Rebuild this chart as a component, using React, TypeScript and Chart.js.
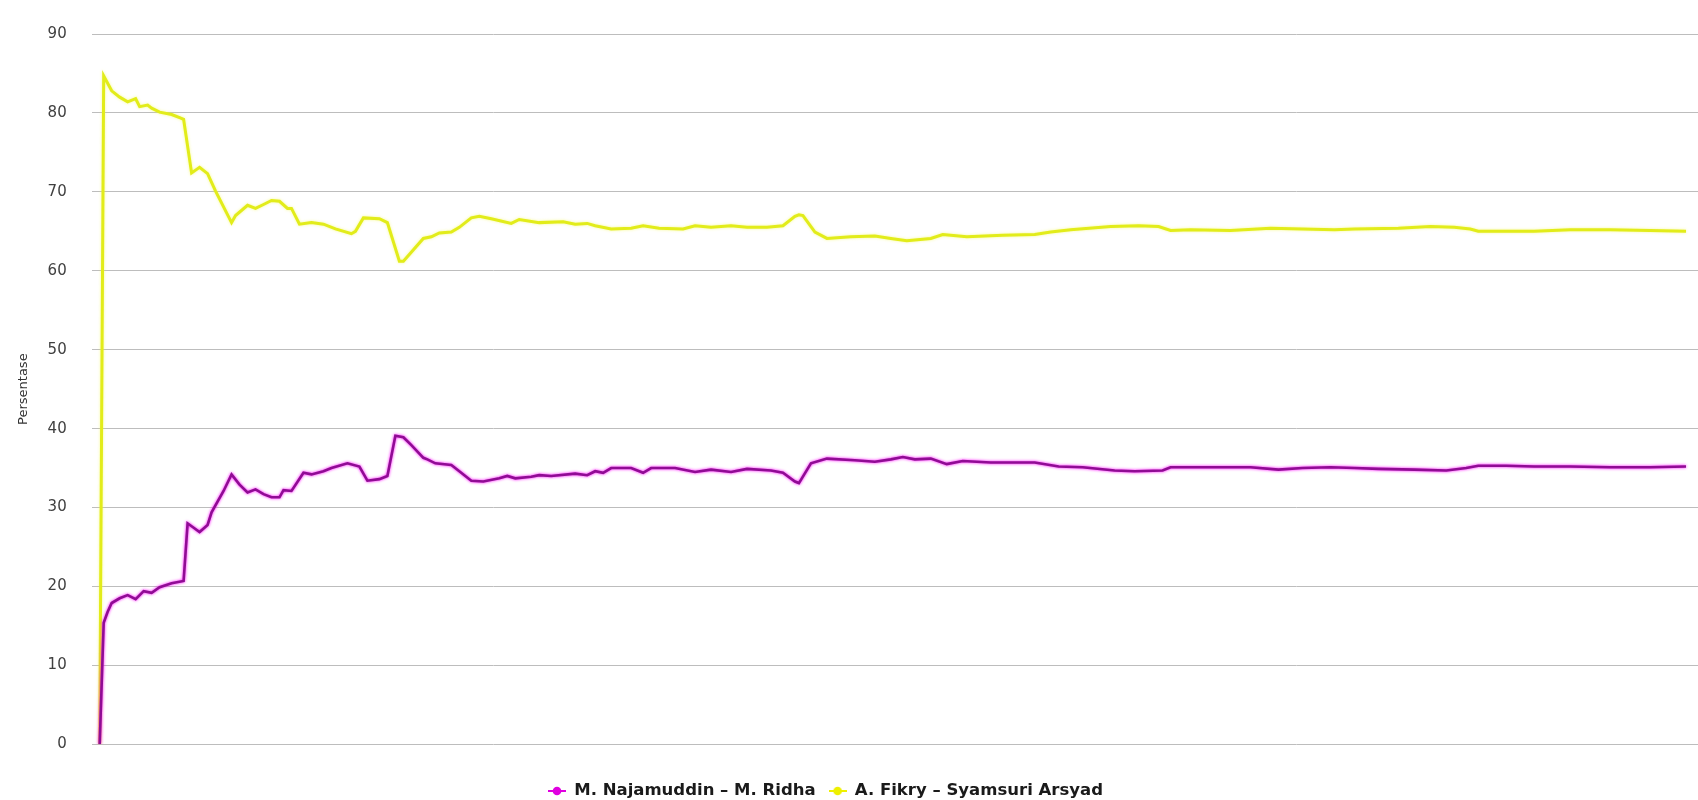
import React, { useEffect, useRef } from "react";
import { Chart, registerables } from "chart.js";

Chart.register(...registerables);

// Series names (legend)
const seriesNames = ["M. Najamuddin – M. Ridha", "A. Fikry – Syamsuri Arsyad"];

// M. Najamuddin – M. Ridha : update number / percentage
const najaUpdates = [
  0, 1, 2, 3, 5, 7, 9, 11, 13, 15, 18, 21, 22, 25, 27, 28, 31, 33, 35, 37, 39, 41, 43, 45, 46, 48,
  51, 53, 56, 58, 62, 65, 67, 70, 72, 74, 76, 78, 81, 82, 84, 88, 90, 93, 96, 100, 102, 104, 108,
  110, 113, 119, 122, 124, 126, 128, 133, 136, 138, 144, 149, 153, 158, 162, 168, 171, 174, 175,
  178, 182, 189, 194, 198, 201, 204, 208, 212, 216, 223, 234, 240, 246, 254, 259, 266, 268, 278,
  288, 295, 301, 308, 314, 320, 329, 337, 342, 345, 352, 359, 368, 378, 388, 397,
];
const najaPct = [
  0, 15.4, 16.8, 17.9, 18.5, 18.9, 18.4, 19.4, 19.2, 19.9, 20.4, 20.7, 28.0, 26.9, 27.8, 29.4, 32.1,
  34.2, 32.9, 31.9, 32.3, 31.7, 31.3, 31.3, 32.2, 32.1, 34.4, 34.2, 34.6, 35.0, 35.6, 35.2, 33.4,
  33.6, 34.0, 39.1, 38.9, 37.9, 36.3, 36.1, 35.6, 35.4, 34.6, 33.4, 33.3, 33.7, 34.0, 33.7, 33.9,
  34.1, 34.0, 34.3, 34.1, 34.6, 34.4, 35.0, 35.0, 34.4, 35.0, 35.0, 34.5, 34.8, 34.5, 34.9, 34.7,
  34.4, 33.3, 33.1, 35.6, 36.2, 36.0, 35.8, 36.1, 36.4, 36.1, 36.2, 35.5, 35.9, 35.7, 35.7, 35.2,
  35.1, 34.7, 34.6, 34.7, 35.1, 35.1, 35.1, 34.8, 35.0, 35.1, 35.0, 34.9, 34.8, 34.7, 35.0, 35.3,
  35.3, 35.2, 35.2, 35.1, 35.1, 35.2,
];

// A. Fikry – Syamsuri Arsyad : update number / percentage
const fikryUpdates = [
  0, 1, 3, 5, 7, 9, 10, 12, 13, 15, 18, 20, 21, 23, 25, 27, 29, 33, 34, 37, 39, 41, 43, 45, 47, 48,
  50, 53, 56, 59, 63, 64, 66, 70, 72, 75, 76, 81, 83, 85, 88, 90, 93, 95, 98, 103, 105, 110, 116,
  119, 122, 124, 128, 133, 136, 140, 146, 149, 153, 158, 162, 167, 171, 174, 175, 176, 179, 182,
  188, 194, 198, 202, 208, 211, 217, 226, 234, 238, 243, 253, 260, 265, 268, 273, 283, 293, 301,
  309, 314, 325, 333, 339, 343, 345, 352, 359, 368, 378, 388, 397,
];
const fikryPct = [
  0, 84.7, 82.8, 82.0, 81.4, 81.8, 80.8, 81.0, 80.6, 80.1, 79.8, 79.4, 79.2, 72.4, 73.1, 72.3, 70.1,
  66.1, 67.0, 68.3, 67.9, 68.4, 68.9, 68.8, 67.9, 67.9, 65.9, 66.1, 65.9, 65.3, 64.7, 65.0, 66.7,
  66.6, 66.1, 61.2, 61.2, 64.1, 64.3, 64.8, 64.9, 65.5, 66.7, 66.9, 66.6, 66.0, 66.5, 66.1, 66.2,
  65.9, 66.0, 65.7, 65.3, 65.4, 65.7, 65.4, 65.3, 65.7, 65.5, 65.7, 65.5, 65.5, 65.7, 66.9, 67.1,
  67.0, 64.9, 64.1, 64.3, 64.4, 64.1, 63.8, 64.1, 64.6, 64.3, 64.5, 64.6, 64.9, 65.2, 65.6, 65.7,
  65.6, 65.1, 65.2, 65.1, 65.4, 65.3, 65.2, 65.3, 65.4, 65.6, 65.5, 65.3, 65.0, 65.0, 65.0, 65.2,
  65.2, 65.1, 65.0,
];

// Axis
const yMin = 0;
const yMax = 90;
const yStep = 10;
const xMin = -2;
const xMax = 400;
const yTitle = "Persentase";

const lineColors = ["#900c94", "#e2ec1a"];
const glowColors = ["rgba(255,0,255,1)", "rgba(240,245,60,0.55)"];
const markerColors = ["#e000e0", "#eef000"];

const LEGEND_FONT = 16.5;
const LEGEND_START_X = 548;
const LEGEND_TEXT_Y = 791;

export default function App() {
  const ref = useRef<HTMLCanvasElement | null>(null);

  useEffect(() => {
    document.body.style.margin = "0";
    const canvas = ref.current;
    if (!canvas) return;

    const makeMarker = (color: string) => {
      const c = document.createElement("canvas");
      c.width = 18;
      c.height = 10;
      const g = c.getContext("2d")!;
      g.strokeStyle = color;
      g.lineWidth = 2;
      g.beginPath();
      g.moveTo(0, 5);
      g.lineTo(18, 5);
      g.stroke();
      g.fillStyle = color;
      g.beginPath();
      g.arc(9, 5, 4.3, 0, Math.PI * 2);
      g.fill();
      return c;
    };
    const markers = markerColors.map(makeMarker);

    const glowPlugin = {
      id: "glow",
      beforeDatasetDraw(chart: any, args: any) {
        const ctx = chart.ctx;
        ctx.save();
        ctx.shadowColor = glowColors[args.index];
        ctx.shadowBlur = 3;
      },
      afterDatasetDraw(chart: any) {
        chart.ctx.restore();
      },
    };

    const legendPlace = {
      id: "legendPlace",
      afterLayout(chart: any) {
        const lg = chart.legend;
        if (!lg || !lg.lineWidths) return;
        const pad = lg.options.labels.padding;
        const start = (lg.left + pad + lg.right - lg.lineWidths[0]) / 2;
        const dx = LEGEND_START_X - start;
        lg.left += dx;
        lg.right += dx;
        const center = lg.top + pad + LEGEND_FONT / 2;
        const dy = LEGEND_TEXT_Y - center;
        lg.top += dy;
        lg.bottom += dy;
      },
    };

    const toPoints = (xs: number[], ys: number[]) => xs.map((x, i) => ({ x, y: ys[i] }));

    const chart = new Chart(canvas, {
      type: "line",
      data: {
        datasets: [
          {
            label: seriesNames[0],
            data: toPoints(najaUpdates, najaPct),
            borderColor: lineColors[0],
            backgroundColor: markerColors[0],
            borderWidth: 2.6,
            pointRadius: 0,
            tension: 0,
            fill: false,
          },
          {
            label: seriesNames[1],
            data: toPoints(fikryUpdates, fikryPct),
            borderColor: lineColors[1],
            backgroundColor: markerColors[1],
            borderWidth: 3,
            pointRadius: 0,
            tension: 0,
            fill: false,
          },
        ],
      },
      options: {
        animation: false,
        responsive: true,
        maintainAspectRatio: false,
        layout: { padding: { left: 0, right: 0, top: 17.3, bottom: 0 } },
        plugins: {
          tooltip: { enabled: false },
          legend: {
            position: "bottom",
            labels: {
              usePointStyle: true,
              pointStyleWidth: 18,
              padding: 13,
              color: "#1a1a1a",
              font: { family: "DejaVu Sans", size: LEGEND_FONT, weight: "bold" },
              generateLabels: (ch: any) => {
                const items = (Chart.defaults.plugins.legend.labels as any).generateLabels(ch);
                items.forEach((it: any, i: number) => {
                  it.pointStyle = markers[i];
                });
                return items;
              },
            },
          },
        },
        scales: {
          x: {
            type: "linear",
            min: xMin,
            max: xMax,
            ticks: { display: false },
            grid: { display: false },
            border: { display: false },
            afterFit: (s: any) => {
              s.height = 16.2;
            },
          },
          y: {
            min: yMin,
            max: yMax,
            ticks: {
              stepSize: yStep,
              padding: 25,
              color: "#404040",
              font: { family: "DejaVu Sans", size: 15 },
            },
            grid: { color: "#bdbdbd", lineWidth: 1, drawTicks: false },
            border: { display: false },
            title: {
              display: true,
              text: yTitle,
              color: "#333",
              font: { family: "DejaVu Sans", size: 13 },
              padding: { top: 15.5, bottom: 0 },
            },
            afterFit: (s: any) => {
              s.width = 91.7;
            },
          },
        },
      } as any,
      plugins: [glowPlugin, legendPlace],
    });

    return () => chart.destroy();
  }, []);

  return (
    <div style={{ position: "relative", width: 1698, height: 800 }}>
      <canvas ref={ref} />
    </div>
  );
}
